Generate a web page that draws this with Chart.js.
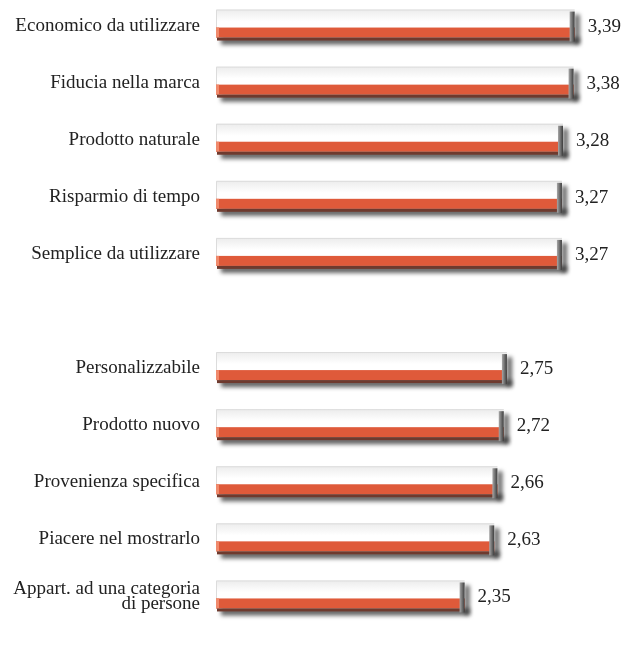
<!DOCTYPE html>
<html>
<head>
<meta charset="utf-8">
<script src="https://cdn.jsdelivr.net/npm/chart.js@4.4.1/dist/chart.umd.min.js"></script>
<style>
  body { margin: 0; background: #fff; overflow: hidden; }
  #wrap { width: 623px; height: 645px; overflow: hidden; }
  #chart { display: block; margin-top: -3px; }
</style>
</head>
<body>
<div id="wrap"><canvas id="chart" width="623" height="648"></canvas></div>
<script>
// categories (empty slot = gap between the two groups)
var categories = [
  "Economico da utilizzare",
  "Fiducia nella marca",
  "Prodotto naturale",
  "Risparmio di tempo",
  "Semplice da utilizzare",
  "",
  "Personalizzabile",
  "Prodotto nuovo",
  "Provenienza specifica",
  "Piacere nel mostrarlo",
  ["Appart. ad una categoria", "di persone"]
];
var scores = [3.39, 3.38, 3.28, 3.27, 3.27, null, 2.75, 2.72, 2.66, 2.63, 2.35];

var labelFont = '"Liberation Serif", "Times New Roman", serif';

// draws the 3d looking bars on top of the (invisible) chart.js bars
var fancyBars = {
  id: "fancyBars",
  afterDatasetsDraw: function (chart) {
    var ctx = chart.ctx;
    var meta = chart.getDatasetMeta(0);
    meta.data.forEach(function (bar, i) {
      var v = scores[i];
      if (v === null) return;
      var x0 = bar.base;
      var x1 = bar.x;
      var c = bar.y;

      ctx.save();
      // shadow
      ctx.filter = "blur(2px)";
      ctx.fillStyle = "rgba(30,30,30,0.7)";
      ctx.fillRect(x0 + 5, c + 12, x1 - x0, 7);
      ctx.fillRect(x1, c - 11, 5, 29);
      ctx.filter = "none";

      // white box
      var g = ctx.createLinearGradient(0, c - 16, 0, c - 4);
      g.addColorStop(0, "#ececec");
      g.addColorStop(1, "#ffffff");
      ctx.fillStyle = g;
      ctx.fillRect(x0, c - 16, x1 - x0, 18);
      ctx.strokeStyle = "#dcdcdc";
      ctx.lineWidth = 1;
      ctx.beginPath();
      ctx.moveTo(x0 + 0.5, c + 12);
      ctx.lineTo(x0 + 0.5, c - 15.5);
      ctx.lineTo(x1, c - 15.5);
      ctx.stroke();

      // red stripe + dark lower edge
      ctx.fillStyle = "#df5a3a";
      ctx.fillRect(x0, c + 2, x1 - x0, 10);
      ctx.fillStyle = "#f08a6c";
      ctx.fillRect(x0, c + 2, 3, 10);
      ctx.fillStyle = "#6e3a2e";
      ctx.fillRect(x0 + 1, c + 12, x1 - x0 - 1, 3);

      // end cap
      var gc = ctx.createLinearGradient(x1 - 5, 0, x1, 0);
      gc.addColorStop(0, "#a8a8a8");
      gc.addColorStop(1, "#3c3c3c");
      ctx.fillStyle = gc;
      ctx.fillRect(x1 - 5, c - 14, 5, 30);

      // value
      ctx.fillStyle = "#222";
      ctx.font = "19px " + labelFont;
      ctx.textAlign = "left";
      ctx.textBaseline = "middle";
      ctx.fillText(v.toFixed(2).replace(".", ","), x1 + 13, c + 1);
      ctx.restore();
    });
  }
};

var ctx = document.getElementById("chart").getContext("2d");
var chart = new Chart(ctx, {
  type: "bar",
  data: {
    labels: categories,
    datasets: [{
      data: scores,
      backgroundColor: "rgba(0,0,0,0)",
      borderWidth: 0
    }]
  },
  options: {
    indexAxis: "y",
    responsive: false,
    animation: false,
    events: [],
    layout: { padding: { top: 0, bottom: 20, left: 0, right: 5 } },
    plugins: {
      legend: { display: false },
      tooltip: { enabled: false }
    },
    scales: {
      x: {
        display: false,
        min: 0,
        max: 3.8
      },
      y: {
        afterFit: function (scale) {
          scale.width = 216;
          scale.paddingTop = 0;
          scale.paddingBottom = 0;
        },
        grid: { display: false, drawTicks: false },
        border: { display: false },
        ticks: {
          autoSkip: false,
          padding: 16,
          color: "#222",
          font: { family: labelFont, size: 19, lineHeight: 0.8 }
        }
      }
    }
  },
  plugins: [fancyBars]
});
</script>
</body>
</html>
